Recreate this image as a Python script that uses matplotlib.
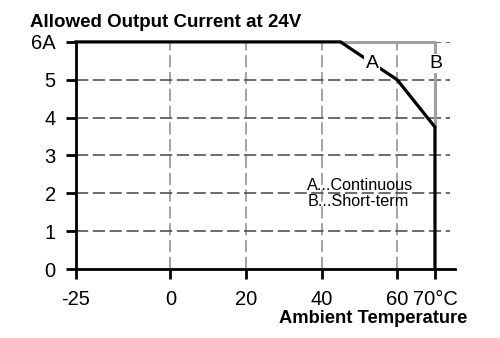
import matplotlib.pyplot as plt

plt.rcParams['font.family'] = ['Liberation Sans', 'DejaVu Sans']

# derating curves: temperature (°C) vs. output current (A)
temp_a = [-25, 45, 60, 70, 70]
curr_a = [6, 6, 5, 3.75, 0]
temp_b = [45, 70, 70]
curr_b = [6, 6, 3.75]

x_ticks = [-25, 0, 20, 40, 60, 70]
x_labels = ['-25', '0', '20', '40', '60', '70°C']
y_ticks = [0, 1, 2, 3, 4, 5, 6]
y_labels = ['0', '1', '2', '3', '4', '5', '6A']

fig = plt.figure(figsize=(5, 3.38), dpi=100)
ax = fig.add_axes([0.152, 0.204, 0.758, 0.672])
ax.set_xlim(-25, 75.3)
ax.set_ylim(0, 6)

# dashed grid
for x in [0, 20, 40, 60]:
    ax.plot([x, x], [0, 6], color='#8a8a8a', lw=1.1, dashes=(8, 3), zorder=1)
for y in [1, 2, 3, 4, 5, 6]:
    ax.plot([-25, 74], [y, y], color='#444444', lw=1.1, dashes=(8, 3), zorder=1)

ax.plot(temp_b, curr_b, color='#a0a0a0', lw=2.2, zorder=2, clip_on=False)
ax.plot(temp_a, curr_a, color='black', lw=2.3, zorder=3, clip_on=False,
        solid_joinstyle='miter')

ax.text(53.4, 5.31, 'A', fontsize=14, ha='center', va='baseline', zorder=4,
        bbox=dict(facecolor='white', edgecolor='none', pad=1))
ax.text(70.2, 5.31, 'B', fontsize=14, ha='center', va='baseline', zorder=4,
        bbox=dict(facecolor='white', edgecolor='none', pad=1))

ax.text(36.2, 2.08, 'A...Continuous', fontsize=11.7, ha='left',
        va='baseline', zorder=4)
ax.text(36.2, 1.66, 'B...Short-term', fontsize=11.7, ha='left',
        va='baseline', zorder=4)

for s in ['top', 'right']:
    ax.spines[s].set_visible(False)
for s in ['left', 'bottom']:
    ax.spines[s].set_linewidth(2)
ax.spines['left'].set_bounds(0, 6)

ax.set_xticks(x_ticks)
ax.set_xticklabels(x_labels)
ax.set_yticks(y_ticks)
ax.set_yticklabels(y_labels)
ax.tick_params(direction='out', length=7, width=2, labelsize=14.5)
ax.tick_params(axis='x', pad=8)
ax.tick_params(axis='y', pad=7.5)

fig.text(0.06, 0.921, 'Allowed Output Current at 24V', fontsize=13.5,
         fontweight='bold', ha='left', va='baseline')
fig.text(0.934, 0.0444, 'Ambient Temperature', fontsize=13.2,
         fontweight='bold', ha='right', va='baseline')

plt.savefig('out.png', dpi=100)
